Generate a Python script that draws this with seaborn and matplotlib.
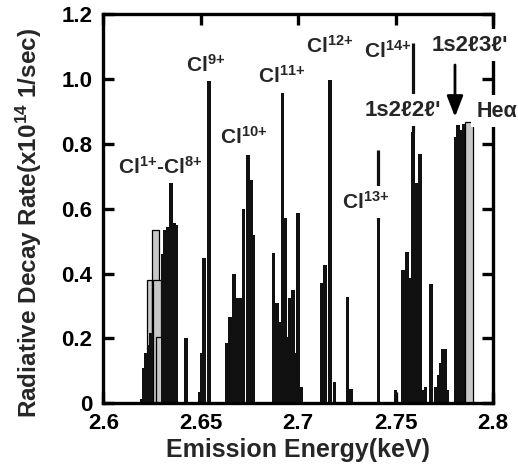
import numpy as np
import matplotlib
matplotlib.use("Agg")
import matplotlib.pyplot as plt
import seaborn as sns

# ---------------- data ----------------
# black lines: emission energy (keV) and radiative decay rate (x10^14 1/sec)
line_energy = [2.6196, 2.6210, 2.6220, 2.6233, 2.6244, 2.6304, 2.6318, 2.6332,
               2.6348, 2.6362, 2.6372, 2.6425, 2.6494, 2.6505, 2.6518, 2.6541,
               2.6633, 2.6650, 2.6671, 2.6689, 2.6703, 2.6719, 2.6744, 2.6759,
               2.6770, 2.6873, 2.6890, 2.6905, 2.6919, 2.6934, 2.6947, 2.6960,
               2.6973, 2.6984, 2.7001, 2.7014, 2.7121, 2.7138, 2.7164, 2.7187,
               2.7254, 2.7272, 2.7412, 2.7499, 2.7537, 2.7560, 2.7570, 2.7591,
               2.7609, 2.7624, 2.7641, 2.7654, 2.7681, 2.7705, 2.7722, 2.7733,
               2.7742, 2.7754, 2.7765, 2.7808, 2.7820, 2.7831, 2.7843, 2.7852]
line_rate = [0.012, 0.108, 0.154, 0.180, 0.216, 0.460, 0.534, 0.544,
             0.678, 0.555, 0.550, 0.200, 0.035, 0.154, 0.447, 0.995,
             0.185, 0.266, 0.400, 0.324, 0.324, 0.600, 0.765, 0.688,
             0.518, 0.463, 0.310, 0.251, 0.956, 0.571, 0.205, 0.324,
             0.349, 0.154, 0.586, 0.050, 0.370, 0.426, 0.997, 0.066,
             0.328, 0.045, 0.565, 0.040, 0.410, 0.465, 0.385, 0.837,
             0.680, 0.770, 0.040, 0.050, 0.369, 0.050, 0.086, 0.123,
             0.166, 0.166, 0.040, 0.820, 0.858, 0.843, 0.790, 0.860]

# gray lines (low charge states, overlapping)
gray_energy = [2.6239, 2.6268, 2.6275, 2.6287]
gray_rate = [0.380, 0.534, 0.380, 0.204]

# He-alpha line (gray)
hea_energy = [2.7876]
hea_rate = [0.868]

xticks = [2.6, 2.65, 2.7, 2.75, 2.8]
xtick_labels = ["2.6", "2.65", "2.7", "2.75", "2.8"]
yticks = [0, 0.2, 0.4, 0.6, 0.8, 1.0, 1.2]
ytick_labels = ["0", "0.2", "0.4", "0.6", "0.8", "1.0", "1.2"]

labels = ["Cl$^{1{+}}$-Cl$^{8{+}}$", "Cl$^{9{+}}$", "Cl$^{10{+}}$",
          "Cl$^{11{+}}$", "Cl$^{12{+}}$", "Cl$^{13{+}}$", "Cl$^{14{+}}$"]

# ---------------- style ----------------
sns.set_theme(style="ticks")
FONT = ["Liberation Sans", "DejaVu Sans"]
plt.rcParams["font.family"] = FONT
plt.rcParams["font.weight"] = "bold"
plt.rcParams["mathtext.fontset"] = "custom"
plt.rcParams["mathtext.rm"] = "Liberation Sans:bold"
plt.rcParams["mathtext.bf"] = "Liberation Sans:bold"
plt.rcParams["mathtext.it"] = "Liberation Sans:bold:italic"
plt.rcParams["mathtext.default"] = "bf"

fig = plt.figure(figsize=(5.18, 4.66), dpi=100)
ax = fig.add_axes([0.1994, 0.1345, 0.7523, 0.8354])

BLACK_W = 0.0019
GRAY_W = [0.0026, 0.0039, 0.0043, 0.0036]
HEA_W = 0.0040

# gray low-charge bars first (behind)
for e, r, w in zip(gray_energy, gray_rate, GRAY_W):
    sns.barplot(x=[e], y=[r], native_scale=True, width=w, color="#c8c8c8",
                saturation=1, errorbar=None, edgecolor="black", linewidth=0.9,
                ax=ax, zorder=1)

# black lines
le = np.array(line_energy)
min_sp = np.min(np.diff(np.sort(np.unique(le))))
sns.barplot(x=le, y=line_rate, native_scale=True, width=BLACK_W / min_sp,
            color="#111111", saturation=1, errorbar=None, linewidth=0,
            edgecolor="none", ax=ax, zorder=2)

# He-alpha gray bar
sns.barplot(x=hea_energy, y=hea_rate, native_scale=True, width=HEA_W,
            color="#c8c8c8", saturation=1, errorbar=None, edgecolor="black",
            linewidth=0.9, ax=ax, zorder=2.2)

ax.set_xlim(2.6, 2.8)
ax.set_ylim(0, 1.2)
ax.set_xticks(xticks)
ax.set_xticklabels(xtick_labels)
ax.set_yticks(yticks)
ax.set_yticklabels(ytick_labels)

for s in ax.spines.values():
    s.set_linewidth(2.4)
    s.set_color("black")
    s.set_visible(True)
ax.tick_params(axis="both", direction="in", length=8, width=2.4,
               top=True, right=True, labelsize=16, colors="black")
ax.tick_params(axis="x", pad=7)
ax.tick_params(axis="y", pad=8)
for t in ax.get_xticklabels() + ax.get_yticklabels():
    t.set_fontweight("bold")

ax.set_xlabel("Emission Energy(keV)", fontsize=18, fontweight="bold")
ax.set_ylabel("Radiative Decay Rate(x10$^{14}$ 1/sec)", fontsize=17.5,
              fontweight="bold")
ax.xaxis.set_label_coords(0.5, -0.088)
ax.yaxis.set_label_coords(-0.152, 0.462)

# ---------------- annotations ----------------
lab_pos = [(2.6292, 0.728), (2.6525, 1.043), (2.6722, 0.822), (2.6915, 1.009),
           (2.7164, 1.101), (2.7349, 0.620), (2.7461, 1.086)]
white_box = dict(boxstyle="square,pad=0.25", facecolor="white", edgecolor="none")
for txt, (x, y) in zip(labels, lab_pos):
    kw = {}
    if "13" in txt:
        kw["bbox"] = white_box
    ax.text(x, y, txt, ha="center", va="center", fontsize=15,
            fontweight="bold", zorder=5, **kw)

# pointer lines for Cl13+ and Cl14+
ax.plot([2.7412, 2.7412], [0.565, 0.781], color="#111111", lw=2.3,
        solid_capstyle="butt", zorder=2)
ax.plot([2.7591, 2.7591], [0.837, 1.111], color="#111111", lw=2.3,
        solid_capstyle="butt", zorder=2)

ax.text(2.7538, 0.904, "1s2\u21132\u2113'", ha="center", va="center",
        fontsize=16, fontweight="bold", bbox=white_box, zorder=5,
        family=FONT)
ax.text(2.7883, 1.104, "1s2\u21133\u2113'", ha="center", va="center",
        fontsize=16, fontweight="bold", bbox=white_box, zorder=5,
        family=FONT, clip_on=False)
ax.text(2.8020, 0.901, "He\u03b1", ha="center", va="center",
        fontsize=15.5, fontweight="bold", bbox=white_box, zorder=5,
        family=FONT, clip_on=False)
ax.annotate("", xy=(2.7805, 0.883), xytext=(2.7805, 1.043),
            arrowprops=dict(arrowstyle="-|>,head_length=0.9,head_width=0.35",
                            color="black", lw=2.0, mutation_scale=14,
                            shrinkA=0, shrinkB=0),
            zorder=5)

fig.savefig("out.png", dpi=100)
